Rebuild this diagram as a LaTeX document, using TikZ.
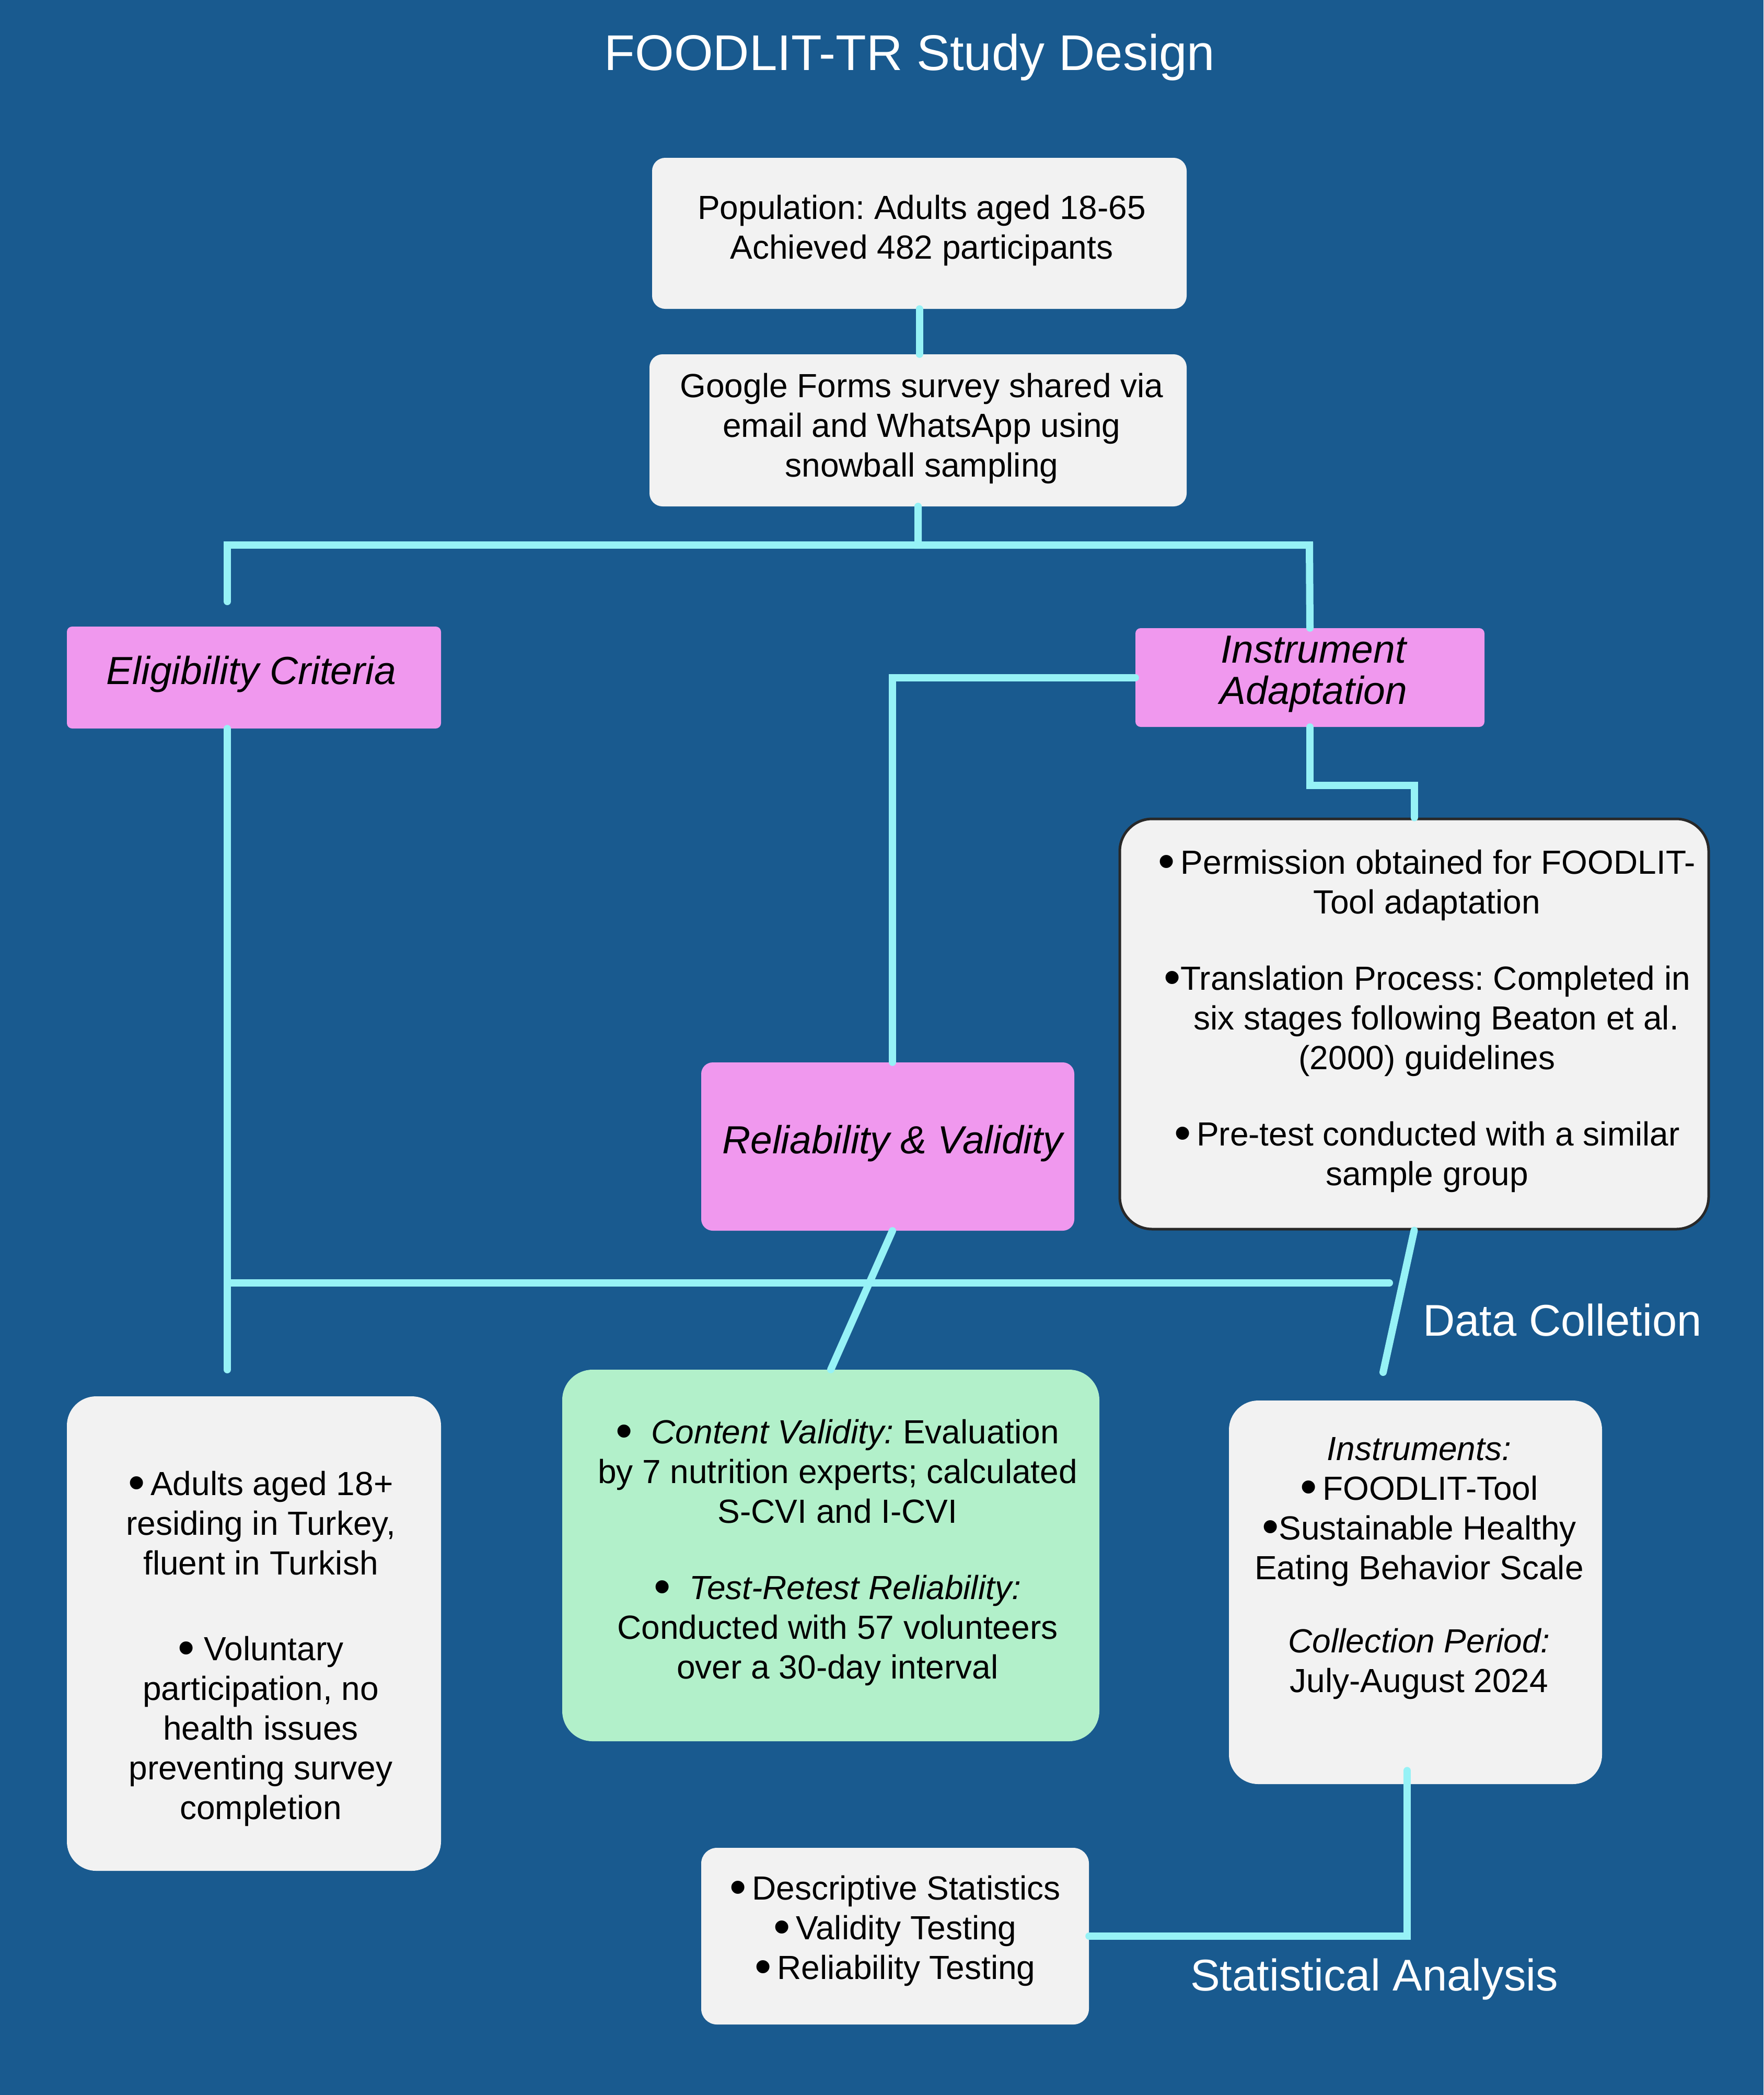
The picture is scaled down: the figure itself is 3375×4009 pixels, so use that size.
\documentclass[tikz,border=0pt]{standalone}
\usepackage{fontspec}
\setmainfont{Liberation Sans}
\frenchspacing
\definecolor{bgc}{RGB}{25,90,143}
\definecolor{linec}{RGB}{150,242,246}
\definecolor{pinkc}{RGB}{240,152,238}
\definecolor{grayc}{RGB}{242,242,242}
\definecolor{greenc}{RGB}{178,240,202}
\definecolor{borderc}{RGB}{40,40,40}
\newcommand{\bul}{{\fontsize{92}{0}\selectfont\raisebox{-0.07em}{•}}}
\begin{document}
\begin{tikzpicture}[x=1pt,y=-1pt]
\tikzset{
  conn/.style={line width=14pt, draw=linec, line cap=round},
  graybox/.style={fill=grayc, draw=none, inner sep=0pt},
  pinkbox/.style={fill=pinkc, draw=none, inner sep=0pt},
  greenbox/.style={fill=greenc, draw=none, inner sep=0pt},
  txt/.style={font=\fontsize{64}{76}\selectfont, align=center, inner sep=0pt, text=black},
  lbl/.style={font=\fontsize{75}{79}\selectfont\itshape, align=center, inner sep=0pt, text=black},
  sect/.style={font=\fontsize{85}{90}\selectfont, text=white, inner sep=0pt},
}
\fill[bgc] (0,0) rectangle (3375,4009);
\useasboundingbox (0,0) rectangle (3375,4009);

% title
\node[font=\fontsize{96}{110}\selectfont, text=white, inner sep=0pt] (title) at (1741,110) {FOODLIT-TR Study Design};

% boxes
\node[graybox, rounded corners=25pt, minimum width=1023pt, minimum height=289pt] (pop) at (1759.5,446.5) {};
\node[graybox, rounded corners=25pt, minimum width=1028pt, minimum height=291pt] (google) at (1757,823.5) {};
\node[pinkbox, rounded corners=10pt, minimum width=716pt, minimum height=195pt] (elig) at (486,1296.5) {};
\node[pinkbox, rounded corners=10pt, minimum width=668pt, minimum height=189pt] (instr) at (2507,1296.5) {};
\node[graybox, draw=borderc, line width=5pt, rounded corners=62pt, minimum width=1127pt, minimum height=785pt] (adapt) at (2706.5,1959.5) {};
\node[pinkbox, rounded corners=22pt, minimum width=714pt, minimum height=322pt] (relval) at (1699,2194) {};
\node[greenbox, rounded corners=58pt, minimum width=1028pt, minimum height=711pt] (green) at (1590,2976.5) {};
\node[graybox, rounded corners=56pt, minimum width=714pt, minimum height=734pt] (inst) at (2709,3047) {};
\node[graybox, rounded corners=30pt, minimum width=742pt, minimum height=338pt] (stats) at (1713,3705) {};
\node[graybox, rounded corners=56pt, minimum width=716pt, minimum height=908pt] (eligdet) at (486,3126) {};

% free ends
\coordinate (jl) at (435,1043);
\coordinate (jr) at (2506,1043);
\coordinate (eligend) at (435,1151);
\coordinate (eligbot) at (435,2621);
\coordinate (hl) at (435,2455);
\coordinate (hr) at (2659,2455);
\coordinate (dcend) at (2647,2626);

% connectors
\draw[conn] (pop.south) -- (pop.south |- google.north);
\draw[conn] (google.south) |- (jl) -- (eligend);
\draw[conn] (google.south) |- (jr) -- (instr.north);
\draw[conn] (instr.west) -| ([xshift=9pt]relval.north);
\draw[conn] (instr.south) -- ++(0,112) -| (adapt.north);
\draw[conn] ([xshift=-51pt]elig.south) -- (eligbot);
\draw[conn] (hl) -- (hr);
\draw[conn] ([xshift=9pt]relval.south) -- (green.north);
\draw[conn] (adapt.south) -- (dcend);
\draw[conn] ([xshift=-16pt,yshift=26pt]inst.south) |- (stats.east);

% texts
\node[txt] (popt) at (1764,441) {Population: Adults aged 18-65\\Achieved 482 participants};
\node[txt] (googlet) at (1764,820) {Google Forms survey shared via\\email and WhatsApp using\\snowball sampling};
\node[lbl] (eligt) at (481,1290) {Eligibility Criteria};
\node[lbl] (instrt) at (2514,1290) {Instrument\\Adaptation};
\node[txt] (adaptt) at (2731,1954) {\bul\,Permission obtained for FOODLIT-\\Tool adaptation\\[70pt]
 \bul Translation Process: Completed in\\\ \ six stages following Beaton et al.\\(2000) guidelines\\[70pt]
 \bul\,Pre-test conducted with a similar\\sample group};
\node[lbl] (relvalt) at (1708,2188) {Reliability \& Validity};
\node[txt] (greent) at (1603,2971) {\bul\ \ \textit{Content Validity:} Evaluation\\by 7 nutrition experts; calculated\\S-CVI and I-CVI\\[70pt]
 \bul\ \ \textit{Test-Retest Reliability:}\\Conducted with 57 volunteers\\over a 30-day interval};
\node[txt] (instt) at (2716,3001) {\textit{Instruments:}\\\bul\,FOODLIT-Tool\\\bul Sustainable Healthy\\Eating Behavior Scale\\[64pt]
 \textit{Collection Period:}\\July-August 2024};
\node[txt] (statst) at (1713,3695) {\bul\,Descriptive Statistics\\\bul\,Validity Testing\\\bul\,Reliability Testing};
\node[txt] (eligdett) at (499,3155) {\bul\,Adults aged 18+\\residing in Turkey,\\fluent in Turkish\\[88pt]
 \bul\ Voluntary\\participation, no\\health issues\\preventing survey\\completion};

% section labels
\node[sect, anchor=west] (dclab) at (2723,2526) {Data Colletion};
\node[sect, anchor=west] (salab) at (2278,3787) {Statistical Analysis};
\end{tikzpicture}
\end{document}
